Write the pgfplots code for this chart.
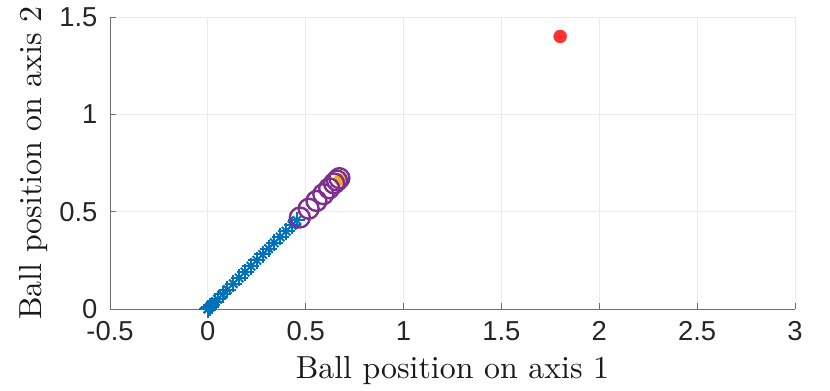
\documentclass[border=0pt]{standalone}
\usepackage{fontspec}
\usepackage{pgfplots}
\pgfplotsset{compat=1.18}
\setmainfont{lmroman10-regular}[Extension=.otf]
\newfontfamily\helv{Liberation Sans}
\definecolor{mBlue}{HTML}{0072BD}
\definecolor{mPurple}{HTML}{7E2F8E}
\definecolor{mYellow}{HTML}{EDB120}
\definecolor{mRed}{HTML}{FF3030}
\definecolor{gridGray}{HTML}{EBEBEB}
\definecolor{axGray}{HTML}{6E6E6E}

\begin{document}
\begin{tikzpicture}
  \begin{axis}[
    scale only axis,
    width=685bp, height=292bp,
    xmin=-0.5, xmax=3, ymin=0, ymax=1.5,
    xtick={-0.5,0,0.5,1,1.5,2,2.5,3},
    xticklabels={-0.5,0,0.5,1,1.5,2,2.5,3},
    ytick={0,0.5,1,1.5},
    yticklabels={0,0.5,1,1.5},
    axis x line*=bottom, axis y line*=left,
    axis line style={draw=axGray, line width=0.8pt, -},
    tick align=inside,
    tick style={draw=axGray, line width=0.8pt},
    major tick length=6bp,
    grid=major,
    major grid style={draw=gridGray, line width=0.8pt},
    ticklabel style={font=\helv\fontsize{27.5}{27.5}\selectfont, text=black!85},
    xticklabel style={yshift=-9bp},
    yticklabel style={xshift=-9bp},
    xlabel={Ball position on axis 1},
    ylabel={Ball position on axis 2},
    label style={font=\fontsize{32}{32}\selectfont, text=black!90},
    xlabel style={at={([yshift=-69bp]axis description cs:0.5,0)}, anchor=base},
    ylabel style={at={([xshift=-68bp]axis description cs:0,0.5)}, anchor=base, rotate=0},
    clip=false,
  ]
    % trajectory, first phase (asterisk = plus + cross)
    \addplot[only marks, mark=+, mark size=8.5bp, mBlue, line width=2pt] coordinates {
      (0,0) (0.003,0.003) (0.01,0.01) (0.02,0.02) (0.035,0.035) (0.05,0.05)
      (0.075,0.075) (0.10,0.10) (0.13,0.13) (0.16,0.16) (0.19,0.19)
      (0.22,0.22) (0.25,0.25) (0.28,0.28) (0.31,0.31) (0.34,0.34)
      (0.37,0.37) (0.40,0.40) (0.43,0.43) (0.455,0.455)
    };
    \addplot[only marks, mark=x, mark size=6bp, mBlue, line width=2pt] coordinates {
      (0,0) (0.003,0.003) (0.01,0.01) (0.02,0.02) (0.035,0.035) (0.05,0.05)
      (0.075,0.075) (0.10,0.10) (0.13,0.13) (0.16,0.16) (0.19,0.19)
      (0.22,0.22) (0.25,0.25) (0.28,0.28) (0.31,0.31) (0.34,0.34)
      (0.37,0.37) (0.40,0.40) (0.43,0.43) (0.455,0.455)
    };
    % target
    \addplot[only marks, mark=*, mark size=6bp, mYellow, draw=mYellow] coordinates {(0.675,0.665)};
    % second phase
    \addplot[only marks, mark=o, mark size=10bp, mPurple, line width=2.4pt] coordinates {
      (0.47,0.47) (0.515,0.515) (0.555,0.555) (0.59,0.59)
      (0.62,0.62) (0.645,0.645) (0.66,0.66) (0.672,0.672)
    };
    % goal
    \addplot[only marks, mark=*, mark size=6.5bp, mRed, draw=mRed] coordinates {(1.8,1.4)};
  \end{axis}
  \pgfresetboundingbox
  \path ([shift={(-110bp,-82bp)}]current axis.south west) rectangle ([shift={(35bp,17bp)}]current axis.north east);
\end{tikzpicture}
\end{document}
